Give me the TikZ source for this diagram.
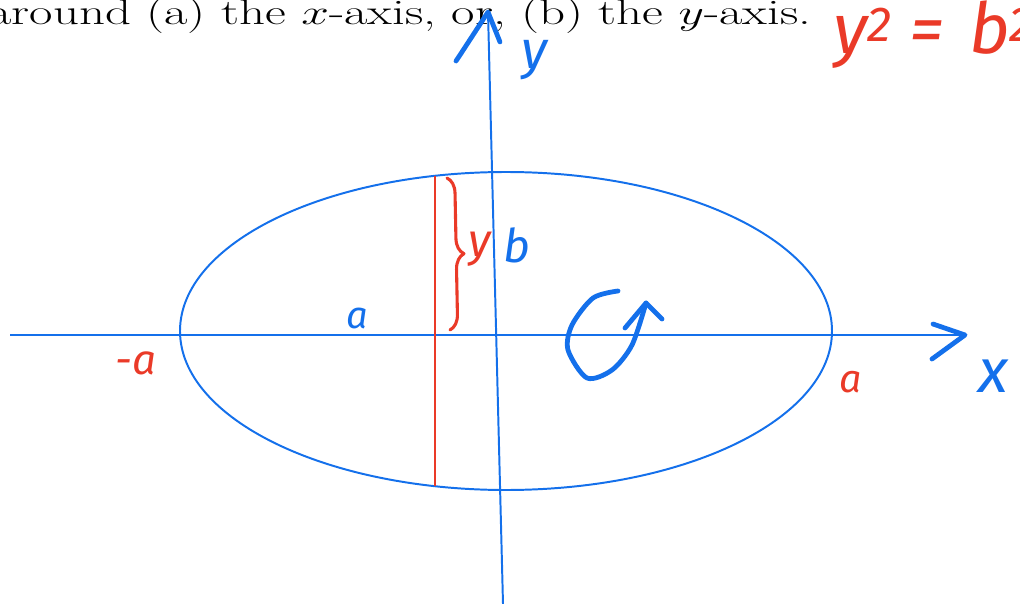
\documentclass[tikz,border=0pt]{standalone}
\usepackage{fontspec}
\newfontfamily\handfont{Fira Sans}
\usetikzlibrary{decorations.pathreplacing}
\definecolor{penblue}{RGB}{20,112,235}
\definecolor{penred}{RGB}{234,58,40}

\begin{document}
\begin{tikzpicture}[
    x=0.025cm, y=-0.025cm,
    axis/.style={draw=penblue, line width=1.4pt},
    redline/.style={draw=penred, line width=1.2pt},
    pen/.style={draw=penblue, line width=3.4pt, line cap=round, line join=round},
    redpen/.style={draw=penred, line width=2.2pt, line cap=round, line join=round},
    hand/.style={inner sep=0pt, anchor=base, font=\handfont\itshape\fontsize{#1}{#1}\selectfont},
]

\clip (0,0) rectangle (1020,604);

\node[anchor=base west, inner sep=0pt, xscale=1.42, transform shape, font=\fontsize{25.5}{30}\selectfont] (task) at (-12,25) {around (a) the $x$-axis, or, (b) the $y$-axis.};

\coordinate (xl) at (10,335);
\coordinate (xr) at (965,335);
\coordinate (yb) at (503,604);
\coordinate (yt) at (488,12);
\coordinate (o) at (506,331);
\coordinate (pt) at (435,176);
\coordinate (pb) at (435,486);
\coordinate (bt) at (447,178);
\coordinate (bb) at (450,330);

\draw[axis] (o) ellipse [x radius=326, y radius=159];
\draw[axis] (xl) -- (xr);
\draw[axis] (yb) -- (yt);
\draw[redline] (pt) -- (pb);
\draw[redpen, decorate, decoration={brace, amplitude=11pt}] (bt) -- (bb);

\draw[pen] (933,324) -- (xr) -- (932,359);
\draw[pen] (456,61) -- (460,55) -- (yt) -- (500,42);
\draw[pen] plot[smooth] coordinates {(618,291) (593,298) (572,325) (568,350) (587,378) (612,370) (632,345) (646,303)};
\draw[pen] (625,328) -- (646,303) -- (662,319);

\node[hand=38, text=penblue] (ylab) at (534,69) {y};
\node[hand=44, text=penblue, anchor=base west] (xlab) at (978,392) {x};
\node[hand=27, text=penblue] (alab) at (357,328) {a};
\node[hand=33, text=penblue, anchor=base west] (blab) at (503,262) {b};
\node[hand=33, text=penred] (ylen) at (480,256) {y};
\node[hand=30, text=penred] (ma) at (136,374) {-a};
\node[hand=28, text=penred] (pa) at (851,392) {a};
\node[hand=50, text=penred, anchor=base west] (eq) at (833,54) {y\textsuperscript{2}\hspace{0.25em}=\hspace{0.35em}b\textsuperscript{2}};

\end{tikzpicture}
\end{document}
